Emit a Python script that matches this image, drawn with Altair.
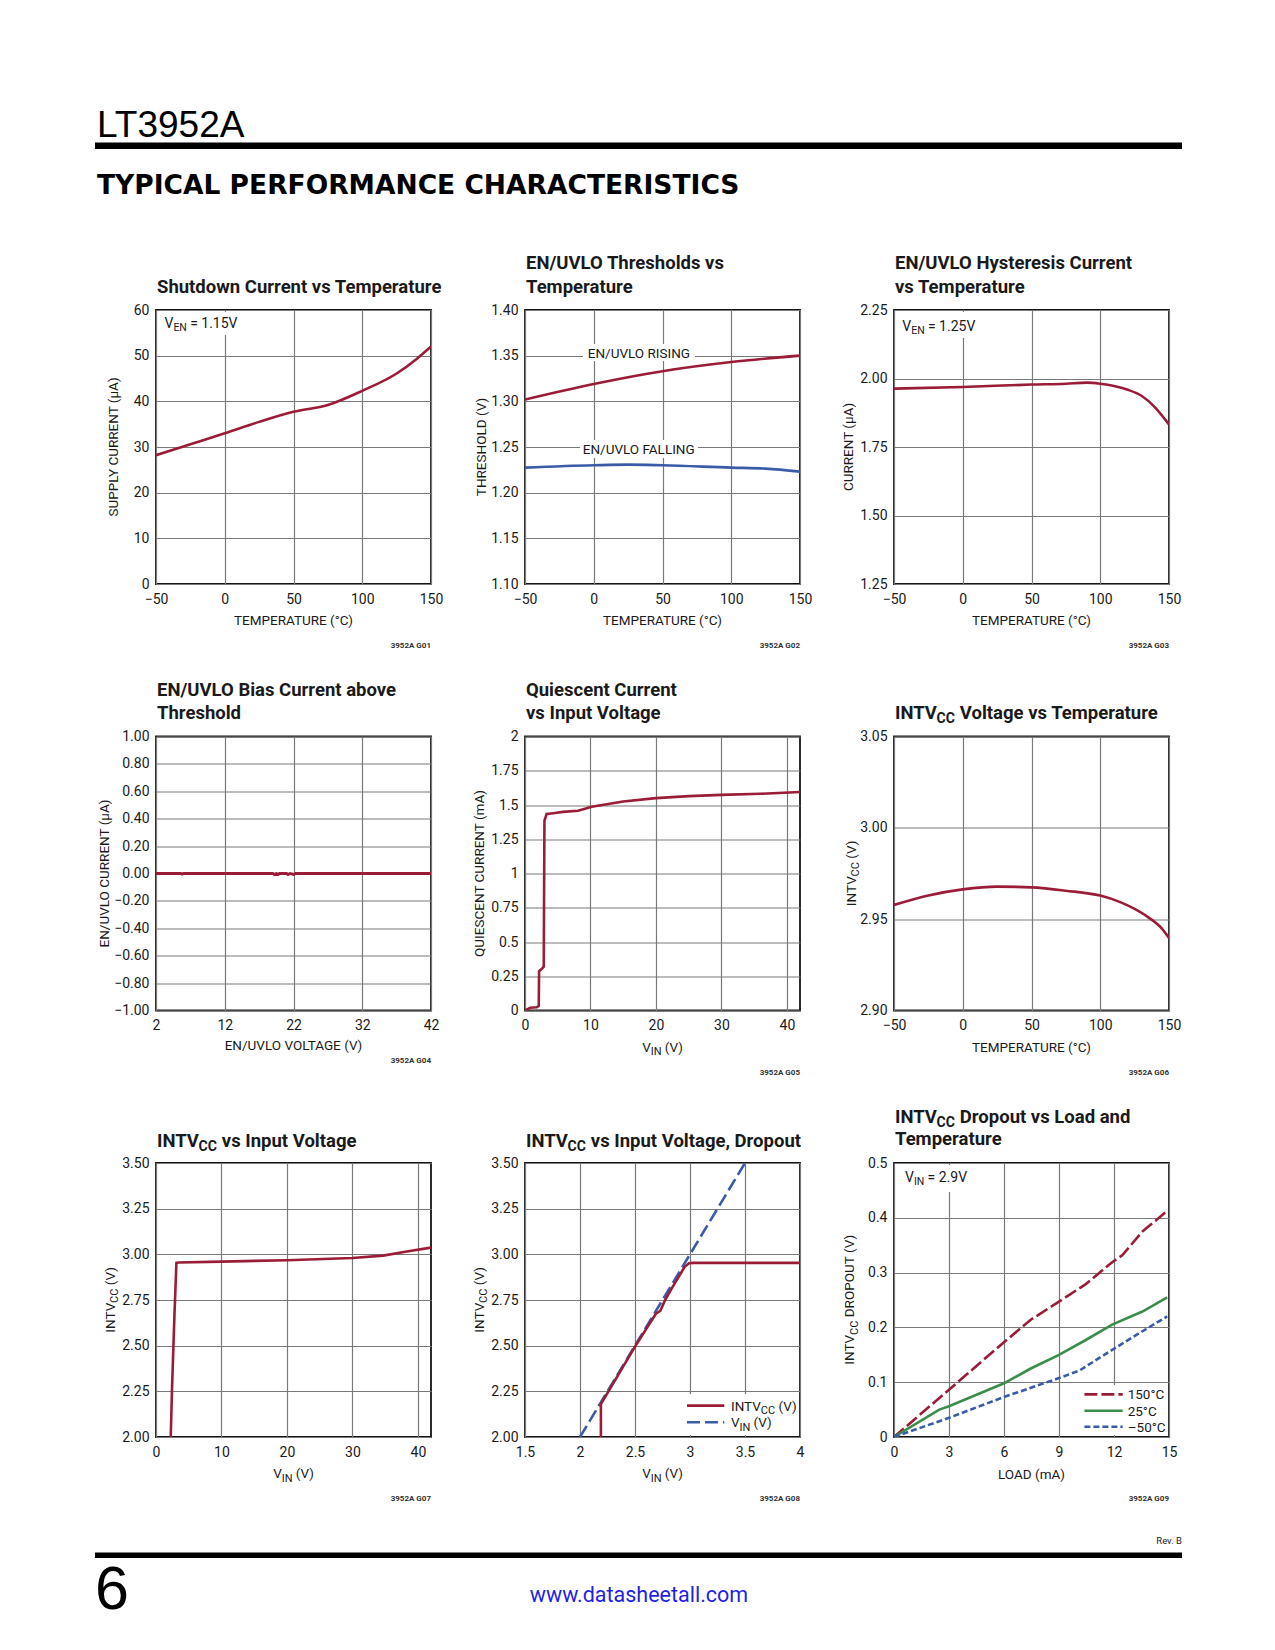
import altair as alt
import pandas as pd

FONT = "Roboto"
RED = "#9b1c36"
BLUE = "#3a5ca8"
GREEN = "#3c8c4c"
GRID = "#7a7a7a"
TXT = "#1a1a1a"
PW, PH = 275, 274

# ---------------- data ----------------
# G01 Shutdown current vs temperature
g01_temp = [-50, -25, 0, 25, 50, 75, 100, 125, 140, 150]
g01_current = [28.2, 30.6, 33.0, 35.5, 37.7, 39.2, 42.3, 46.1, 49.4, 52.0]
# G02 EN/UVLO thresholds
g02_temp_r = [-50, 0, 50, 100, 150]
g02_rising = [1.302, 1.319, 1.333, 1.343, 1.350]
g02_temp_f = [-50, 0, 25, 50, 100, 125, 150]
g02_falling = [1.2274, 1.2300, 1.2307, 1.2300, 1.2274, 1.2263, 1.2230]
# G03 hysteresis current
g03_temp = [-50, 0, 50, 75, 90, 100, 110, 120, 130, 140, 150]
g03_current = [1.963, 1.969, 1.978, 1.981, 1.985, 1.981, 1.973, 1.959, 1.937, 1.894, 1.832]
# G04 EN/UVLO bias current
g04_voltage = [2, 5.6, 5.8, 6.0, 12, 19.0, 19.2, 19.5, 19.8, 20.0, 21.0, 21.2, 21.5, 22.0, 22.3, 22.5, 32, 42]
g04_current = [0, 0, -0.005, 0, 0, 0, -0.008, 0, -0.006, 0, 0, -0.008, 0, -0.007, 0, 0, 0, 0]
# G05 quiescent current
g05_vin = [0, 0.8, 1.8, 2.1, 2.15, 2.5, 2.86, 2.97, 3.3, 4.3, 5.8, 8.1, 10.2, 15, 20, 25, 30, 36, 42]
g05_iq = [0, 0.02, 0.024, 0.034, 0.287, 0.30, 0.32, 1.385, 1.434, 1.44, 1.45, 1.458, 1.487, 1.525, 1.55, 1.565, 1.574, 1.582, 1.595]
# G06 INTVcc vs temperature
g06_temp = [-50, -25, 0, 25, 50, 75, 100, 115, 125, 135, 145, 150]
g06_v = [2.9578, 2.9630, 2.9663, 2.9678, 2.9674, 2.9656, 2.9629, 2.9592, 2.9556, 2.9510, 2.9447, 2.9397]
# G07 INTVcc vs input voltage
g07_vin = [2.25, 2.46, 2.82, 3.12, 3.48, 10, 20, 30, 34.7, 38.3, 42]
g07_v = [2.00, 2.28, 2.67, 2.953, 2.955, 2.96, 2.968, 2.98, 2.993, 3.015, 3.037]
# G08 dropout
g08_vin_ref = [2.0, 3.5]
g08_vin_ref_v = [2.0, 3.5]
g08_vin = [2.19, 2.19, 2.5, 2.69, 2.71, 2.73, 2.77, 2.83, 2.95, 2.99, 3.03, 4.0]
g08_intvcc = [2.00, 2.18, 2.495, 2.675, 2.683, 2.69, 2.745, 2.81, 2.93, 2.951, 2.953, 2.953]
# G09 dropout vs load
g09_load_150 = [0, 3, 6, 7.46, 9, 10.46, 11.9, 12.46, 13.55, 14.9]
g09_drop_150 = [0, 0.0863, 0.173, 0.214, 0.247, 0.279, 0.319, 0.332, 0.375, 0.4125]
g09_load_25 = [0, 2.47, 3, 6, 7.46, 9, 10.46, 11.9, 13.55, 14.9]
g09_drop_25 = [0, 0.05, 0.056, 0.098, 0.125, 0.150, 0.177, 0.205, 0.229, 0.255]
g09_load_m50 = [0, 3, 6, 9, 10.1, 11.9, 13.55, 14.9]
g09_drop_m50 = [0, 0.035, 0.073, 0.1075, 0.121, 0.159, 0.193, 0.22]

ONE = pd.DataFrame({"k": [0]})

# approximate Roboto advance widths (em)
RW = {' ': .248, '(': .341, ')': .347, '.': .263, ',': .2, '=': .549, '/': .412, '-': .276,
      '°': .384, 'µ': .567, 'A': .652, 'C': .651, 'D': .658, 'E': .568, 'I': .272, 'L': .539, 'M': .853,
      'N': .697, 'O': .675, 'P': .629, 'R': .613, 'S': .593, 'T': .598, 'U': .647, 'V': .636, 'Y': .601}


def tw(s, size, bold=False):
    return sum(RW.get(c, .562) for c in s) * size * (1.02 if bold else 1.0)


def txt(text, x, y, size=13.5, weight="normal", align="left", baseline="alphabetic", angle=0,
        dx=0, dy=0, color=TXT, font=FONT):
    props = dict(text=text, font=font, fontSize=size, fontWeight=weight, align=align,
                 baseline=baseline, color=color)
    if angle:
        props["angle"] = angle
    if dx:
        props["dx"] = dx
    if dy:
        props["dy"] = dy
    return alt.Chart(ONE).mark_text(**props).encode(x=alt.value(x), y=alt.value(y))


def rich(segs, x, y, size=13.5, sub=11, shift=3.5, angle=0, center=False, weight="normal"):
    if len(segs) == 1 and center:
        return [txt(segs[0][0], x, y, size, weight, "center", "alphabetic", angle)]
    bold = weight == "bold"
    ws = [tw(t, sub if s else size, bold) for t, s in segs]
    off = -sum(ws) / 2 if center else 0
    out = []
    for (t, s), w in zip(segs, ws):
        fs = sub if s else size
        lead = len(t) - len(t.lstrip(" "))
        d = off + tw(" " * lead, fs, bold)
        out.append(txt(t.strip(" "), x, y, fs, weight, "left", "alphabetic", angle,
                       dx=d, dy=shift if s else 0))
        off += w
    return out


def rule(x, x2, y, y2, color, width, dash=None):
    props = dict(color=color, strokeWidth=width)
    if dash:
        props["strokeDash"] = dash
    return alt.Chart(ONE).mark_rule(**props).encode(
        x=alt.value(x), x2=alt.value(x2), y=alt.value(y), y2=alt.value(y2))


def box(x, x2, y, y2):
    return alt.Chart(ONE).mark_rect(color="white").encode(
        x=alt.value(x), x2=alt.value(x2), y=alt.value(y), y2=alt.value(y2))


def scl(dom, vals, fmt=None, expr=None):
    ax = dict(values=vals, title=None)
    if fmt:
        ax["format"] = fmt
    if expr:
        ax["labelExpr"] = expr
    return dict(scale=alt.Scale(domain=dom, nice=False, zero=False), axis=alt.Axis(**ax))


def line(xs, ys, xe, ye, color, width=2.6, dash=None, interp="linear"):
    df = pd.DataFrame({"x": xs, "y": ys, "i": list(range(len(xs)))})
    props = dict(color=color, strokeWidth=width, clip=True, interpolate=interp)
    if dash:
        props["strokeDash"] = dash
    return alt.Chart(df).mark_line(**props).encode(
        x=alt.X("x:Q", **xe), y=alt.Y("y:Q", **ye), order="i:Q")


def title(lines, y_last=-17.3, gap=23.4):
    out = []
    n = len(lines)
    for k, ln in enumerate(lines):
        y = y_last - (n - 1 - k) * gap
        out += rich(ln, 1, y, size=18.5, sub=14, shift=4, weight="bold")
    return out


def xtitle(segs, y=PH + 41):
    return rich(segs, PW / 2, y, size=13.5, sub=11, shift=3.5, center=True)


def ytitle(segs, cx):
    return rich(segs, cx + 4.8, PH / 2, size=13.5, sub=11, shift=3.5, angle=270, center=True)


def glabel(s, y=PH + 64):
    return [txt(s, PW, y, size=8, weight="bold", align="right", color="#333333")]


TEMP = ([-50, 150], [-50, 0, 50, 100, 150], "d")
TEMPERATURE = [("TEMPERATURE (°C)", 0)]
VIN = [("V", 0), ("IN", 1), (" (V)", 0)]
INTVCC_V = [("INTV", 0), ("CC", 1), (" (V)", 0)]

# ---------------- panel 1 ----------------
xe = scl(*TEMP)
ye = scl([0, 60], [0, 10, 20, 30, 40, 50, 60], "d")
header = [
    rule(-124, -123, -278, -278, "white", 1),
    txt("LT3952A", -59, -173, size=37, font="Liberation Sans", color="black"),
    rule(-61, 1026, -164.3, -164.3, "black", 6.5),
    txt("TYPICAL PERFORMANCE CHARACTERISTICS", -59, -116, size=26.5, weight="bold",
        font="DejaVu Sans", color="black"),
    rule(-61, 1026, 1245.3, 1245.3, "black", 5.5),
    txt("Rev. B", 1026, 1233.7, size=9.5, align="right"),
    txt("6", -61, 1299, size=61, font="Liberation Sans", color="black"),
    txt("www.datasheetall.com", 483, 1292, size=21.5, align="center", color="#1f1fe6"),
]
p1 = alt.layer(
    line(g01_temp, g01_current, xe, ye, RED, interp="monotone"),
    box(4, 84, 2, 25),
    *rich([("V", 0), ("EN", 1), (" = 1.15V", 0)], 8.5, 18.4, size=14, sub=10.5, shift=3),
    *title([[("Shutdown Current vs Temperature", 0)]]),
    *xtitle(TEMPERATURE),
    *ytitle([("SUPPLY CURRENT (µA)", 0)], -43.3),
    *glabel("3952A G01"),
    *header,
).properties(width=PW, height=PH)

# ---------------- panel 2 ----------------
xe = scl(*TEMP)
ye = scl([1.10, 1.40], [1.10, 1.15, 1.20, 1.25, 1.30, 1.35, 1.40], ".2f")
p2 = alt.layer(
    line(g02_temp_r, g02_rising, xe, ye, RED, interp="monotone"),
    line(g02_temp_f, g02_falling, xe, ye, BLUE, interp="monotone"),
    box(58, 170, 34, 51),
    txt("EN/UVLO RISING", 113.9, 47.5, size=13.5, align="center"),
    box(55, 173, 130, 148),
    txt("EN/UVLO FALLING", 113.7, 144.2, size=13.5, align="center"),
    *title([[("EN/UVLO Thresholds vs", 0)], [("Temperature", 0)]]),
    *xtitle(TEMPERATURE),
    *ytitle([("THRESHOLD (V)", 0)], -44.3),
    *glabel("3952A G02"),
).properties(width=PW, height=PH)

# ---------------- panel 3 ----------------
xe = scl(*TEMP)
ye = scl([1.25, 2.25], [1.25, 1.50, 1.75, 2.00, 2.25], ".2f")
p3 = alt.layer(
    line(g03_temp, g03_current, xe, ye, RED, interp="monotone"),
    box(4, 84, 2, 28),
    *rich([("V", 0), ("EN", 1), (" = 1.25V", 0)], 8.3, 20.6, size=14, sub=10.5, shift=3),
    *title([[("EN/UVLO Hysteresis Current", 0)], [("vs Temperature", 0)]]),
    *xtitle(TEMPERATURE),
    *ytitle([("CURRENT (µA)", 0)], -45.7),
    *glabel("3952A G03"),
).properties(width=PW, height=PH)

# ---------------- panel 4 ----------------
xe = scl([2, 42], [2, 12, 22, 32, 42], "d")
ye = scl([-1, 1], [-1.0, -0.8, -0.6, -0.4, -0.2, 0.0, 0.2, 0.4, 0.6, 0.8, 1.0], ".2f")
p4 = alt.layer(
    line(g04_voltage, g04_current, xe, ye, RED, width=2.8),
    *title([[("EN/UVLO Bias Current above", 0)], [("Threshold", 0)]]),
    *xtitle([("EN/UVLO VOLTAGE (V)", 0)], y=PH + 39.4),
    *ytitle([("EN/UVLO CURRENT (µA)", 0)], -51.6),
    *glabel("3952A G04", y=PH + 52.5),
).properties(width=PW, height=PH)

# ---------------- panel 5 ----------------
xe = scl([0, 42], [0, 10, 20, 30, 40], "d")
ye = scl([0, 2], [0, 0.25, 0.5, 0.75, 1, 1.25, 1.5, 1.75, 2], expr="'' + datum.value")
p5 = alt.layer(
    line(g05_vin, g05_iq, xe, ye, RED),
    *title([[("Quiescent Current", 0)], [("vs Input Voltage", 0)]]),
    *xtitle(VIN),
    *ytitle([("QUIESCENT CURRENT (mA)", 0)], -46.3),
    *glabel("3952A G05"),
).properties(width=PW, height=PH)

# ---------------- panel 6 ----------------
xe = scl(*TEMP)
ye = scl([2.90, 3.05], [2.90, 2.95, 3.00, 3.05], ".2f")
p6 = alt.layer(
    line(g06_temp, g06_v, xe, ye, RED, interp="monotone"),
    *title([[("INTV", 0), ("CC", 1), (" Voltage vs Temperature", 0)]]),
    *xtitle(TEMPERATURE),
    *ytitle(INTVCC_V, -43.3),
    *glabel("3952A G06"),
).properties(width=PW, height=PH)

# ---------------- panel 7 ----------------
xe = scl([0, 42], [0, 10, 20, 30, 40], "d")
ye = scl([2.0, 3.5], [2.0, 2.25, 2.5, 2.75, 3.0, 3.25, 3.5], ".2f")
p7 = alt.layer(
    line(g07_vin, g07_v, xe, ye, RED),
    *title([[("INTV", 0), ("CC", 1), (" vs Input Voltage", 0)]], y_last=-16.4),
    *xtitle(VIN),
    *ytitle(INTVCC_V, -46),
    *glabel("3952A G07"),
).properties(width=PW, height=PH)

# ---------------- panel 8 ----------------
xe = scl([1.5, 4.0], [1.5, 2.0, 2.5, 3.0, 3.5, 4.0], "~g")
ye = scl([2.0, 3.5], [2.0, 2.25, 2.5, 2.75, 3.0, 3.25, 3.5], ".2f")
p8 = alt.layer(
    line(g08_vin_ref, g08_vin_ref_v, xe, ye, BLUE, dash=[13, 5]),
    line(g08_vin, g08_intvcc, xe, ye, RED),
    box(158, 273, 231, 272),
    rule(162, 199.3, 242.6, 242.6, RED, 2.6),
    rule(162, 199.3, 259.3, 259.3, BLUE, 2.6, dash=[13, 5]),
    *rich(INTVCC_V, 206, 247.5, size=13.5, sub=11, shift=3.5),
    *rich(VIN, 206, 264.2, size=13.5, sub=11, shift=3.5),
    *title([[("INTV", 0), ("CC", 1), (" vs Input Voltage, Dropout", 0)]], y_last=-16.4),
    *xtitle(VIN),
    *ytitle(INTVCC_V, -46),
    *glabel("3952A G08"),
).properties(width=PW, height=PH)

# ---------------- panel 9 ----------------
xe = scl([0, 15], [0, 3, 6, 9, 12, 15], "d")
ye = scl([0, 0.5], [0, 0.1, 0.2, 0.3, 0.4, 0.5], "~g")
p9 = alt.layer(
    line(g09_load_150, g09_drop_150, xe, ye, RED, dash=[13, 4]),
    line(g09_load_25, g09_drop_25, xe, ye, GREEN),
    line(g09_load_m50, g09_drop_m50, xe, ye, BLUE, dash=[6, 3]),
    box(4, 76, 2, 29),
    *rich([("V", 0), ("IN", 1), (" = 2.9V", 0)], 11, 19.4, size=14, sub=10.5, shift=3),
    box(186, 273, 222, 272),
    rule(190.4, 228.7, 231.4, 231.4, RED, 2.6, dash=[13, 4]),
    rule(190.4, 228.7, 247.7, 247.7, GREEN, 2.6),
    rule(190.4, 228.7, 263.7, 263.7, BLUE, 2.6, dash=[6, 3]),
    txt("150°C", 233.7, 236.4, size=13.5),
    txt("25°C", 233.7, 252.7, size=13.5),
    txt("–50°C", 233.7, 268.7, size=13.5),
    *title([[("INTV", 0), ("CC", 1), (" Dropout vs Load and", 0)], [("Temperature", 0)]],
           y_last=-18, gap=22),
    *xtitle([("LOAD (mA)", 0)], y=PH + 42),
    *ytitle([("INTV", 0), ("CC", 1), (" DROPOUT (V)", 0)], -44.6),
    *glabel("3952A G09"),
).properties(width=PW, height=PH)

chart = alt.concat(
    p1, p2, p3, p4, p5, p6, p7, p8, p9,
    columns=3, spacing={"row": 152.5, "column": 94}, bounds="flush",
).properties(
    padding={"left": 22, "top": 22, "right": 10, "bottom": 10}
).configure(font=FONT).configure_view(
    stroke="#151515", strokeWidth=1.8
).configure_axis(
    labelFont=FONT, labelFontSize=14, labelColor=TXT, ticks=False, tickSize=0,
    domain=False, grid=True, gridColor=GRID, gridWidth=1.2,
    labelFlush=False, labelOverlap=False, labelBound=False,
).configure_axisX(labelPadding=8).configure_axisY(labelPadding=7)

chart.save("out.html", embed_options={"renderer": "svg", "actions": False})
